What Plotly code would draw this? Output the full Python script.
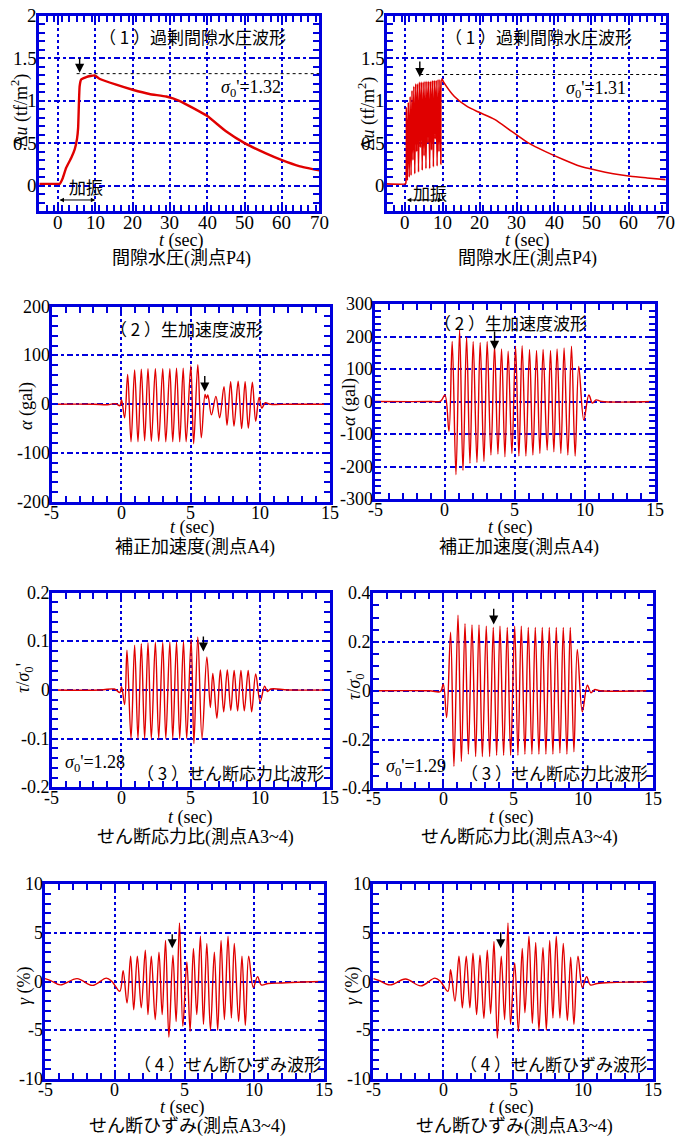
import numpy as np
import plotly.graph_objects as go

W, H = 688, 1136
BLUE = "#0000dd"
RED = "#e00000"
SERIF = "Liberation Serif"
JP = "Noto Sans CJK JP"
MIXED = "Liberation Serif, Noto Sans CJK JP"

# ---- (1) excess pore water pressure u (tf/m2), measuring point P4: (t [s], u) ----
pore_left = [(-5, 0.02), (0, 0.02), (0.45, 0.02), (1.3, 0.09), (2.2, 0.21), (3.6, 0.33),
             (4.5, 0.43), (5.1, 0.55), (5.4, 0.68), (5.6, 0.95), (5.8, 1.17), (6.2, 1.25),
             (7.6, 1.28), (9.8, 1.30), (11.1, 1.26), (15.6, 1.19), (20, 1.13), (24.5, 1.08),
             (29, 1.05), (32.5, 1.0), (36, 0.92), (40, 0.82), (45, 0.64), (50, 0.5),
             (55.7, 0.38), (60, 0.30), (64.6, 0.23), (70, 0.18)]
pore_right = [(-5, 0.02), (0, 0.02), (0.15, 0.03), (0.3, 0.92), (0.55, 0.06), (0.8, 0.98),
              (1.05, 0.1), (1.3, 1.05), (1.55, 0.12), (1.8, 1.12), (2.05, 0.3), (2.3, 1.17),
              (2.55, 0.14), (2.8, 1.2), (3.05, 0.4), (3.3, 1.2), (3.55, 0.16), (3.8, 1.22),
              (4.05, 0.45), (4.3, 1.22), (4.55, 0.18), (4.8, 1.22), (5.05, 0.35), (5.3, 1.23),
              (5.55, 0.2), (5.8, 1.23), (6.05, 0.5), (6.3, 1.23), (6.55, 0.2), (6.8, 1.23),
              (7.05, 0.42), (7.3, 1.24), (7.55, 0.22), (7.8, 1.24), (8.05, 0.55), (8.3, 1.24),
              (8.55, 0.23), (8.8, 1.25), (9.05, 0.4), (9.3, 1.25), (9.55, 0.25), (9.8, 1.26),
              (10.3, 1.22), (13.2, 1.05), (16.4, 0.94), (19.5, 0.87), (24, 0.78), (28.6, 0.64),
              (33.2, 0.5), (37.7, 0.4), (42.3, 0.31), (46.8, 0.23), (51.4, 0.18), (55.9, 0.14),
              (60.5, 0.11), (65, 0.09), (70, 0.07)]
sigma0_pore = [1.32, 1.31]

# ---- (2) corrected acceleration (gal), measuring point A4 ----
acc_left = [(-5, 0), (-2.0, 0), (-1.0, -1), (-0.4, 1), (-0.1, -3), (0.02, 9), (0.24, -28),
            (0.46, 61), (0.70, -77), (0.96, 70), (1.20, -77), (1.44, 72), (1.68, -75),
            (1.92, 73), (2.16, -76), (2.45, 73), (2.69, -76), (2.98, 73), (3.20, -77),
            (3.49, 73), (3.70, -77), (3.97, 74), (4.20, -77), (4.45, 74), (4.66, -77),
            (5.00, 79), (5.20, -81), (5.50, 81), (5.75, -69), (6.02, 20), (6.12, 12),
            (6.22, 19), (6.48, -22), (6.80, 16), (7.07, -28), (7.38, 36), (7.60, -43),
            (7.86, 46), (8.10, -45), (8.40, 47), (8.65, -50), (8.90, 46), (9.13, -49),
            (9.42, 45), (9.66, -35), (9.90, 14), (10.10, -8), (10.35, 3), (10.7, 0),
            (12, 0), (15, 0)]
acc_right = [(-5, 0), (-1.0, 0), (-0.3, 1), (0.0, 20), (0.29, -92), (0.52, 185), (0.79, -225),
             (1.05, 220), (1.29, -212), (1.55, 198), (1.79, -190), (2.02, 185), (2.29, -188),
             (2.52, 182), (2.79, -185), (3.02, 185), (3.29, -165), (3.55, 172), (3.79, -162),
             (4.05, 162), (4.29, -170), (4.52, 155), (4.79, -160), (5.05, 170), (5.29, -168),
             (5.52, 172), (5.79, -168), (6.05, 160), (6.29, -165), (6.55, 157), (6.79, -160),
             (7.02, 160), (7.31, -150), (7.55, 157), (7.79, -155), (8.02, 162), (8.29, -160),
             (8.52, 165), (8.79, -165), (9.05, 170), (9.31, -168), (9.57, 108), (9.93, -57),
             (10.29, 20), (10.55, -5), (10.8, 5), (11.2, 0), (15, 0)]

# ---- (3) shear stress ratio tau/sigma0', measuring points A3~4 ----
tau_left = [(-5, 0), (-1.5, 0), (-0.5, 0.002), (-0.1, -0.005), (0.02, 0.007), (0.24, -0.03),
            (0.41, 0.082), (0.70, -0.10), (0.96, 0.092), (1.20, -0.10), (1.44, 0.095),
            (1.68, -0.10), (1.92, 0.097), (2.16, -0.10), (2.45, 0.098), (2.69, -0.10),
            (2.98, 0.098), (3.20, -0.10), (3.49, 0.099), (3.70, -0.10), (3.97, 0.099),
            (4.20, -0.10), (4.47, 0.10), (4.70, -0.10), (5.02, 0.104), (5.22, -0.11),
            (5.50, 0.109), (5.80, -0.10), (6.15, 0.068), (6.40, -0.036), (6.58, 0.034),
            (6.87, -0.058), (7.12, 0.041), (7.36, -0.045), (7.62, 0.041), (7.87, -0.042),
            (8.11, 0.040), (8.36, -0.043), (8.60, 0.040), (8.84, -0.043), (9.12, 0.040),
            (9.37, -0.045), (9.66, 0.033), (9.98, -0.024), (10.30, 0.008), (10.5, -0.003),
            (10.75, 0.002), (12, 0), (15, 0)]
tau_right = [(-5, 0), (-1, 0), (-0.2, -0.003), (0.0, 0.027), (0.24, -0.11), (0.52, 0.24),
             (0.76, -0.31), (1.05, 0.31), (1.29, -0.29), (1.55, 0.275), (1.79, -0.26),
             (2.05, 0.27), (2.31, -0.27), (2.55, 0.27), (2.79, -0.27), (3.07, 0.265),
             (3.31, -0.27), (3.57, 0.26), (3.81, -0.265), (4.05, 0.265), (4.31, -0.265),
             (4.57, 0.26), (4.81, -0.265), (5.10, 0.265), (5.33, -0.265), (5.57, 0.265),
             (5.83, -0.26), (6.07, 0.26), (6.33, -0.26), (6.57, 0.26), (6.83, -0.26),
             (7.07, 0.26), (7.33, -0.26), (7.57, 0.26), (7.83, -0.26), (8.07, 0.26),
             (8.33, -0.255), (8.57, 0.26), (8.83, -0.26), (9.07, 0.26), (9.33, -0.25),
             (9.57, 0.17), (9.93, -0.086), (10.29, 0.023), (10.55, -0.008), (10.8, 0.005),
             (11.2, 0), (14.5, 0)]
sigma0_tau = [1.28, 1.29]

# ---- (4) shear strain gamma (%), measuring points A3~4 ----
gam_left = [(-5, 0.3), (-4.6, 0.1), (-3.9, -0.35), (-2.7, 0.3), (-1.6, -0.4), (-0.6, 0.35),
            (-0.2, 0.0), (0.36, -1.0), (0.6, 1.1), (0.88, -2.2), (1.14, 2.6), (1.36, -2.9),
            (1.62, 2.6), (1.9, -2.7), (2.19, 3.2), (2.38, -3.4), (2.62, 2.6), (2.9, -3.9),
            (3.17, 3.0), (3.4, -3.4), (3.64, 4.2), (3.88, -5.7), (4.17, 2.7), (4.4, -4.1),
            (4.64, 6.0), (4.88, -4.6), (5.17, 2.0), (5.4, -5.1), (5.64, 3.4), (5.88, -3.4),
            (6.14, 4.65), (6.36, -4.4), (6.6, 3.9), (6.86, -5.0), (7.14, 3.0), (7.38, -5.0),
            (7.62, 4.2), (7.86, -3.9), (8.12, 4.65), (8.36, -3.75), (8.57, 3.9), (8.88, -4.1),
            (9.12, 2.6), (9.36, -4.5), (9.6, 2.6), (9.93, -0.6), (10.24, 0.5), (10.5, -0.35),
            (11, -0.2), (12, -0.15), (13.5, -0.05), (15, 0)]
gam_right = [(-5, 0.3), (-4.6, 0.1), (-3.8, -0.35), (-2.7, 0.25), (-1.6, -0.45), (-0.6, 0.35),
             (-0.2, 0.0), (0.33, -1.0), (0.52, 1.2), (0.83, -2.0), (1.12, 2.6), (1.36, -2.7),
             (1.64, 2.6), (1.9, -2.7), (2.12, 2.9), (2.38, -3.4), (2.62, 2.7), (2.9, -3.8),
             (3.14, 3.2), (3.38, -3.3), (3.62, 4.1), (3.86, -5.8), (4.14, 2.6), (4.38, -3.9),
             (4.62, 6.0), (4.8, -4.4), (5.1, 1.9), (5.36, -5.1), (5.64, 3.4), (5.83, -3.2),
             (6.12, 4.65), (6.36, -4.3), (6.6, 4.0), (6.83, -5.0), (7.12, 3.5), (7.36, -5.0),
             (7.6, 4.2), (7.83, -3.75), (8.07, 4.65), (8.33, -3.75), (8.57, 3.9), (8.86, -4.0),
             (9.1, 2.5), (9.33, -4.4), (9.62, 2.6), (9.93, -0.6), (10.24, 0.5), (10.5, -0.35),
             (11, -0.2), (12, -0.1), (13.5, -0.05), (15, 0)]

# ---- tick labels ----
t_ticks_long = [0, 10, 20, 30, 40, 50, 60, 70]
t_ticks_short = [-5, 0, 5, 10, 15]
u_ticks = [0, 0.5, 1, 1.5, 2]
acc_ticks_left = [-200, -100, 0, 100, 200]
acc_ticks_right = [-300, -200, -100, 0, 100, 200, 300]
tau_ticks_left = [-0.2, -0.1, 0, 0.1, 0.2]
tau_ticks_right = [-0.4, -0.2, 0, 0.2, 0.4]
gam_ticks = [-10, -5, 0, 5, 10]

panel_titles = ["（ 1 ）過剰間隙水圧波形", "（ 2 ）生加速度波形", "（ 3 ）せん断応力比波形", "（ 4 ）せん断ひずみ波形"]
captions = ["間隙水圧(測点P4)", "補正加速度(測点A4)", "せん断応力比(測点A3~4)", "せん断ひずみ(測点A3~4)"]
ytitles = ["Δ<i>u</i> (tf/m<sup>2</sup>)", "<i>α</i> (gal)", "<i>τ</i>/<i>σ</i><sub>0</sub>'", "<i>γ</i> (%)"]

# frame boxes in pixels: (left, right, top, bottom)
panels = [
    dict(box=(39.3, 319.3, 16, 211), xr=[-5, 70], yr=[-0.3, 2], xt=t_ticks_long, yt=u_ticks,
         xm=2, ym=0.1, data=pore_left, lw=2.4, sm=0.4, fs=19),
    dict(box=(386.7, 665.7, 16, 211), xr=[-5, 70], yr=[-0.3, 2], xt=t_ticks_long, yt=u_ticks,
         xm=2, ym=0.1, data=pore_right, lw=1.6, sm=0.6, fs=19),
    dict(box=(51.7, 330, 306.7, 501.7), xr=[-5, 15], yr=[-200, 200], xt=t_ticks_short,
         yt=acc_ticks_left, xm=1, ym=20, data=acc_left, lw=1.4, sm=1.0, fs=18),
    dict(box=(375, 654.7, 304, 499), xr=[-5, 15], yr=[-300, 300], xt=t_ticks_short,
         yt=acc_ticks_right, xm=1, ym=20, data=acc_right, lw=1.4, sm=1.0, fs=18),
    dict(box=(51.7, 330, 592.7, 787.3), xr=[-5, 15], yr=[-0.2, 0.2], xt=t_ticks_short,
         yt=tau_ticks_left, xm=1, ym=0.02, data=tau_left, lw=1.4, sm=1.0, fs=18),
    dict(box=(373.3, 653.3, 593.3, 788.3), xr=[-5, 15], yr=[-0.4, 0.4], xt=t_ticks_short,
         yt=tau_ticks_right, xm=1, ym=0.05, data=tau_right, lw=1.4, sm=1.0, fs=18),
    dict(box=(45, 324, 884, 1079), xr=[-5, 15], yr=[-10, 10], xt=t_ticks_short,
         yt=gam_ticks, xm=1, ym=1, data=gam_left, lw=1.4, sm=1.0, fs=18),
    dict(box=(373.3, 653.3, 884, 1079), xr=[-5, 15], yr=[-10, 10], xt=t_ticks_short,
         yt=gam_ticks, xm=1, ym=1, data=gam_right, lw=1.4, sm=1.0, fs=18),
]


def lab(v):
    return f"{v:g}"


def minor_vals(r, step):
    n = int(round((r[1] - r[0]) / step))
    return [round(r[0] + k * step, 6) for k in range(n + 1)]


fig = go.Figure()
layout = dict(width=W, height=H, margin=dict(l=0, r=0, t=0, b=0), autosize=False,
              paper_bgcolor="white", plot_bgcolor="white", showlegend=False)
annotations = []
shapes = []

for i, p in enumerate(panels, start=1):
    sx = "" if i == 1 else str(i)
    xa, ya = "x" + sx, "y" + sx
    x0, x1, y0, y1 = p["box"]
    t, v = zip(*p["data"])
    fig.add_trace(go.Scatter(x=t, y=v, mode="lines", xaxis=xa, yaxis=ya, hoverinfo="skip",
                             line=dict(color=RED, width=p["lw"], shape="spline", smoothing=p["sm"])))
    common = dict(showline=True, linecolor=BLUE, linewidth=3, mirror="allticks",
                  ticks="inside", ticklen=6, tickwidth=2, tickcolor=BLUE,
                  showgrid=True, gridcolor=BLUE, gridwidth=2, zeroline=False,
                  showticklabels=False, tickmode="array", fixedrange=True)
    layout["xaxis" + sx] = dict(common, domain=[x0 / W, x1 / W], range=p["xr"], anchor=ya,
                                tickvals=p["xt"], griddash="dot",
                                minor=dict(tickmode="array", tickvals=minor_vals(p["xr"], p["xm"]),
                                           ticks="inside", ticklen=6, tickwidth=1.5,
                                           tickcolor=BLUE, showgrid=False))
    layout["yaxis" + sx] = dict(common, domain=[1 - y1 / H, 1 - y0 / H], range=p["yr"], anchor=xa,
                                tickvals=p["yt"], griddash="6px,3px,3px,3px",
                                minor=dict(tickmode="array", tickvals=minor_vals(p["yr"], p["ym"]),
                                           ticks="inside", ticklen=6, tickwidth=1.5,
                                           tickcolor=BLUE, showgrid=False))
    tick_font = dict(family=SERIF, size=p["fs"], color="black")
    # tick labels placed on the axis scales, snug against the frame
    for a in p["xt"]:
        annotations.append(dict(x=a, xref=xa, y=1 - (y1 + 11) / H, yref="paper", text=lab(a),
                                showarrow=False, xanchor="center", yanchor="middle", font=tick_font))
    for a in p["yt"]:
        annotations.append(dict(x=(x0 - 1) / W, xref="paper", y=a, yref=ya, text=lab(a),
                                showarrow=False, xanchor="right", yanchor="middle", font=tick_font,
                                borderpad=0))


def text_px(px, py, text, size, family, xanchor="center", angle=0):
    annotations.append(dict(x=px / W, y=1 - py / H, xref="paper", yref="paper", text=text,
                            showarrow=False, xanchor=xanchor, yanchor="middle", textangle=angle,
                            font=dict(family=family, size=size, color="black")))


def arrow(xa, ya, t, y_tail, y_head):
    annotations.append(dict(x=t, y=y_head, ax=t, ay=y_tail, xref=xa, yref=ya, axref=xa, ayref=ya,
                            text="", showarrow=True, arrowhead=2, arrowsize=1.3, arrowwidth=1.4,
                            arrowcolor="black"))


# axis titles and captions
xtitle = "<i>t</i> (sec)"
ytitle_pos = [(20, 111), (367, 113), (26, 406), (349, 402), (24, 678), (355, 685), (24, 986), (352, 986)]
xtitle_pos = [(181, 241), (527, 241), (192, 527), (510, 527), (190, 817), (511, 817), (183, 1107), (511, 1107)]
caption_pos = [(181, 258), (527, 258), (195, 547), (519, 547), (195, 837), (519, 837), (187, 1126), (514, 1126)]
for i in range(8):
    row = i // 2
    text_px(*ytitle_pos[i], ytitles[row], 18, SERIF, angle=-90)
    text_px(*xtitle_pos[i], xtitle, 18, SERIF)
    text_px(*caption_pos[i], captions[row], 18, MIXED)

# panel titles
text_px(192, 37, panel_titles[0], 17, JP)
text_px(538, 37, panel_titles[0], 17, JP)
text_px(186, 328, panel_titles[1], 17, JP)
text_px(510, 322, panel_titles[1], 17, JP)
text_px(326, 772, panel_titles[2], 17, JP, xanchor="right")
text_px(650, 772, panel_titles[2], 17, JP, xanchor="right")
text_px(323, 1063, panel_titles[3], 17, JP, xanchor="right")
text_px(649, 1063, panel_titles[3], 17, JP, xanchor="right")

# effective confining stress labels
text_px(251, 88, f"<i>σ</i><sub>0</sub>'={sigma0_pore[0]:.2f}", 18, SERIF)
text_px(596, 90, f"<i>σ</i><sub>0</sub>'={sigma0_pore[1]:.2f}", 18, SERIF)
text_px(95, 763, f"<i>σ</i><sub>0</sub>'={sigma0_tau[0]:.2f}", 18, SERIF)
text_px(416, 767, f"<i>σ</i><sub>0</sub>'={sigma0_tau[1]:.2f}", 18, SERIF)

# sigma0' reference levels on the pore pressure panels
shapes.append(dict(type="line", xref="x", yref="y", x0=5, x1=70, y0=sigma0_pore[0], y1=sigma0_pore[0],
                   line=dict(color="black", width=1, dash="dot")))
shapes.append(dict(type="line", xref="x2", yref="y2", x0=4, x1=70, y0=sigma0_pore[1], y1=sigma0_pore[1],
                   line=dict(color="black", width=1, dash="dot")))

# shaking interval (0-10 s)
for xa, ya, px, py in [("x", "y", 86, 187), ("x2", "y2", 430, 192)]:
    text_px(px, py, "加振", 17, JP)
    annotations.append(dict(x=10, y=-0.17, ax=0, ay=-0.17, xref=xa, yref=ya, axref=xa, ayref=ya,
                            text="", showarrow=True, arrowside="end+start", arrowhead=2,
                            startarrowhead=2, arrowsize=0.9, startarrowsize=0.9, arrowwidth=1,
                            arrowcolor="black"))

# liquefaction markers
arrow("x", "y", 5.8, 1.52, 1.33)
arrow("x2", "y2", 3.9, 1.48, 1.28)
arrow("x3", "y3", 6.0, 61, 26)
arrow("x4", "y4", 3.55, 220, 159)
arrow("x5", "y5", 5.9, 0.113, 0.079)
arrow("x6", "y6", 3.6, 0.343, 0.272)
arrow("x7", "y7", 4.12, 5.0, 3.4)
arrow("x8", "y8", 4.1, 5.2, 3.4)

layout["annotations"] = annotations
layout["shapes"] = shapes
fig.update_layout(**layout)
fig.write_html("out.html")
